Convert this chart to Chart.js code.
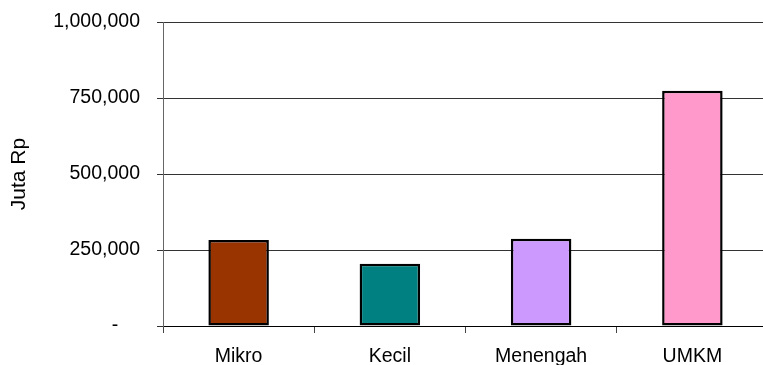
<!DOCTYPE html>
<html>
<head>
<meta charset="utf-8">
<script src="https://cdn.jsdelivr.net/npm/chart.js@4/dist/chart.umd.min.js"></script>
<style>
  html, body { margin: 0; padding: 0; background: #fff; overflow: hidden; }
  #frame { width: 763px; height: 365px; overflow: hidden; }
  #box { width: 768px; height: 365px; position: relative; }
</style>
</head>
<body>
<div id="frame"><div id="box"><canvas id="umkmChart"></canvas></div></div>
<script>
// Nilai per kelompok usaha (juta rupiah)
const categories = ['Mikro', 'Kecil', 'Menengah', 'UMKM'];
const values = [283000, 205000, 287000, 774000];
const barColors = ['#993300', '#008080', '#CC99FF', '#FF99CC'];
const yTicks = [0, 250000, 500000, 750000, 1000000];

const fontFamily = '"Liberation Sans", Arial, sans-serif';

const ctx = document.getElementById('umkmChart').getContext('2d');

const umkmChart = new Chart(ctx, {
    type: 'bar',
    data: {
        labels: categories,
        datasets: [{
            data: values,
            backgroundColor: barColors,
            borderColor: '#000',
            borderWidth: 2.5,
            borderSkipped: false,
            categoryPercentage: 1,
            barPercentage: 0.4
        }]
    },
    options: {
        responsive: true,
        maintainAspectRatio: false,
        animation: false,
        layout: { padding: { top: 22, right: 0, bottom: 0, left: 0 } },
        plugins: {
            legend: { display: false },
            tooltip: { enabled: false }
        },
        scales: {
            x: {
                offset: true,
                grid: {
                    drawOnChartArea: false,
                    drawTicks: true,
                    tickLength: 7,
                    color: '#444',
                    offset: true
                },
                border: { color: '#000', width: 1 },
                ticks: {
                    color: '#000',
                    padding: 12,
                    maxRotation: 0,
                    font: { family: fontFamily, size: 19.5 }
                },
                afterFit: (scale) => { scale.height = 39; }
            },
            y: {
                min: 0,
                max: 1000000,
                afterBuildTicks: (scale) => {
                    scale.ticks = yTicks.map(v => ({ value: v }));
                },
                grid: {
                    color: '#333',
                    tickLength: 6,
                    drawTicks: true
                },
                border: { color: '#666', width: 1 },
                ticks: {
                    color: '#000',
                    padding: 17,
                    font: { family: fontFamily, size: 19.5 },
                    // accounting style: zero shows as a dash, set in from the right
                    callback: (v) => v === 0 ? '-\u00A0\u00A0\u00A0\u00A0' : v.toLocaleString('en-US')
                },
                title: {
                    display: true,
                    text: 'Juta Rp',
                    color: '#000',
                    font: { family: fontFamily, size: 21 },
                    padding: { top: 7, bottom: 0 }
                },
                afterFit: (scale) => {
                    scale.width = 163;
                    // the top label may overhang; the plot starts at the layout padding
                    scale.paddingTop = 0;
                    scale.paddingBottom = 0;
                }
            }
        }
    }
});
</script>
</body>
</html>
